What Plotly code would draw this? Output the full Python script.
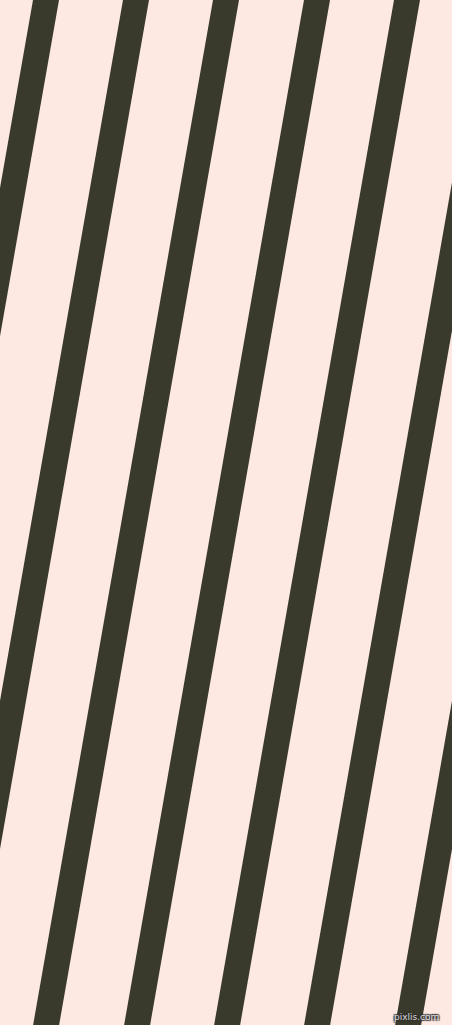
import plotly.graph_objects as go

# Canvas size (pixels)
W, H = 452, 1025

# Stripe data: x position of each dark stripe's left edge at the top row (y = 0)
stripe_top_left = [33, 123, 213, 304, 394, 484, 575]
stripe_width = 26          # horizontal width of each dark stripe
slope = 0.1755             # horizontal drift (px left) per px down (~80 degrees)

bg_color = "#FDE9E1"
stripe_color = "#393A2B"

fig = go.Figure()

for x0 in stripe_top_left:
    xs = [x0, x0 + stripe_width, x0 + stripe_width - slope * H, x0 - slope * H, x0]
    ys = [0, 0, H, H, 0]
    fig.add_trace(go.Scatter(
        x=xs, y=ys, mode="lines", fill="toself",
        fillcolor=stripe_color, line=dict(width=0, color=stripe_color),
        hoverinfo="skip", showlegend=False,
    ))

fig.add_annotation(
    x=441, y=1017, xref="x", yref="y", text="pixlis.com", showarrow=False,
    xanchor="right", yanchor="middle",
    font=dict(family="DejaVu Sans", size=9, color="#D8D8D8",
              shadow="1px 1px 1px #333, -1px -1px 1px #333, 1px -1px 1px #333, -1px 1px 1px #333"),
)

fig.update_layout(
    width=W, height=H,
    margin=dict(l=0, r=0, t=0, b=0),
    paper_bgcolor=bg_color, plot_bgcolor=bg_color,
    xaxis=dict(range=[0, W], visible=False, fixedrange=True),
    yaxis=dict(range=[H, 0], visible=False, fixedrange=True),
    showlegend=False,
)

fig.write_html("out.html", config={"displayModeBar": False, "staticPlot": True})

# Remove the browser's default page margin so the figure fills the window
with open("out.html", "r", encoding="utf-8") as f:
    html = f.read()
html = html.replace(
    "<head>",
    "<head><style>html,body{margin:0;padding:0;overflow:hidden;background:%s;}</style>" % bg_color,
    1,
)
with open("out.html", "w", encoding="utf-8") as f:
    f.write(html)
